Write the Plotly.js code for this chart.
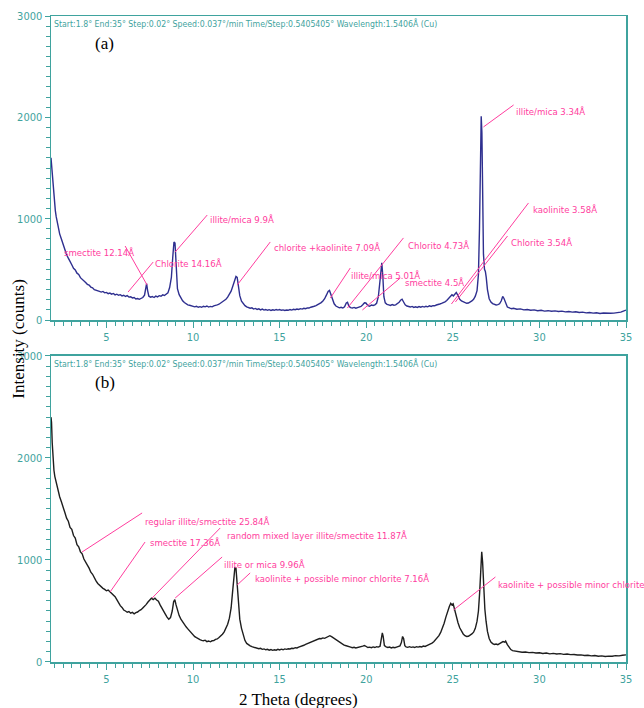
<!DOCTYPE html>
<html>
<head>
<meta charset="utf-8">
<script src="https://cdn.plot.ly/plotly-3.0.1.min.js"></script>
<style>html,body{margin:0;padding:0;background:#fff;}#chart{width:644px;height:708px;}</style>
</head>
<body>
<div id="chart"></div>
<script>
// ---- Panel (a) : 2-theta (deg) and intensity (counts) ----
const thetaA = [1.8,1.85,1.9,1.95,2.0,2.05,2.1,2.15,2.2,2.3,2.4,2.5,2.6,2.7,2.8,2.9,3.0,3.1,3.2,3.3,3.4,3.5,3.6,3.7,3.8,3.9,4.0,4.1,4.2,4.3,4.4,4.5,4.6,4.7,4.8,4.9,5.0,5.1,5.2,5.3,5.4,5.5,5.6,5.7,5.8,5.9,6.0,6.1,6.2,6.3,6.4,6.5,6.6,6.7,6.8,6.9,7.0,7.1,7.2,7.27,7.32,7.38,7.45,7.55,7.65,7.75,7.85,7.95,8.05,8.15,8.25,8.35,8.45,8.55,8.65,8.75,8.83,8.9,8.96,9.02,9.1,9.2,9.3,9.4,9.5,9.6,9.7,9.8,9.9,10.0,10.1,10.2,10.3,10.4,10.5,10.6,10.7,10.8,10.9,11.0,11.1,11.2,11.3,11.4,11.5,11.6,11.7,11.8,11.9,12.0,12.1,12.2,12.3,12.4,12.48,12.55,12.62,12.7,12.8,12.9,13.0,13.1,13.2,13.3,13.4,13.5,13.6,13.7,13.8,13.9,14.0,14.1,14.2,14.3,14.4,14.5,14.6,14.7,14.8,14.9,15.0,15.1,15.2,15.3,15.4,15.5,15.6,15.7,15.8,15.9,16.0,16.1,16.2,16.3,16.4,16.5,16.6,16.7,16.8,16.9,17.0,17.1,17.2,17.3,17.4,17.5,17.6,17.7,17.8,17.88,17.95,18.05,18.15,18.25,18.35,18.45,18.55,18.65,18.75,18.85,18.92,19.0,19.1,19.2,19.3,19.4,19.5,19.6,19.7,19.8,19.9,19.98,20.1,20.2,20.3,20.4,20.5,20.6,20.7,20.78,20.85,20.9,20.96,21.02,21.1,21.2,21.3,21.4,21.5,21.6,21.7,21.8,21.9,22.0,22.07,22.15,22.25,22.35,22.45,22.55,22.65,22.75,22.85,22.95,23.05,23.15,23.25,23.35,23.45,23.55,23.65,23.75,23.85,23.95,24.05,24.15,24.25,24.35,24.45,24.55,24.65,24.75,24.85,24.95,25.03,25.1,25.2,25.3,25.4,25.5,25.6,25.7,25.8,25.9,26.0,26.1,26.2,26.3,26.4,26.48,26.54,26.6,26.64,26.68,26.72,26.77,26.83,26.88,26.93,27.0,27.1,27.2,27.3,27.4,27.5,27.6,27.7,27.8,27.88,27.95,28.05,28.15,28.3,28.4,28.5,28.7,28.9,29.1,29.3,29.5,29.7,29.9,30.1,30.3,30.5,30.7,30.9,31.1,31.3,31.5,31.7,31.9,32.1,32.3,32.5,32.7,32.9,33.1,33.3,33.5,33.7,33.9,34.1,34.3,34.5,34.7,34.85,35.0];
const countsA = [1600,1480,1350,1230,1150,1080,1020,975,930,850,800,740,690,645,610,570,545,510,495,462,450,418,405,388,370,352,345,325,318,300,296,288,282,276,282,268,272,260,266,255,262,248,255,244,250,238,244,232,240,226,230,218,222,208,212,204,214,222,245,330,360,290,235,225,232,222,236,228,240,235,248,242,255,268,320,420,620,770,760,520,310,250,215,190,172,160,150,146,138,134,130,136,126,132,126,136,130,138,128,134,130,140,142,150,156,168,178,190,205,225,250,285,335,400,430,420,340,240,185,160,142,130,122,116,120,108,114,104,110,100,108,98,104,96,102,95,101,96,104,98,103,96,100,94,99,96,104,98,106,101,108,104,112,108,116,112,120,118,126,128,136,142,150,160,172,188,210,245,282,292,260,200,160,138,126,120,125,118,130,168,175,135,122,118,124,116,122,126,134,150,170,168,142,136,148,144,150,165,230,360,540,565,430,230,170,155,150,144,152,146,150,160,175,198,205,180,150,138,132,128,134,124,130,124,132,126,134,128,136,130,140,134,142,140,148,150,158,164,170,180,192,210,232,250,238,255,272,240,205,188,178,170,165,168,175,188,205,235,290,450,900,1700,2010,1850,1200,650,500,480,420,300,210,178,162,152,148,152,160,190,232,215,165,128,118,112,116,106,110,100,104,96,100,92,96,88,92,86,90,84,88,80,84,78,82,74,78,70,74,68,72,65,69,64,66,68,72,78,88,98];

// ---- Panel (b) ----
const thetaB = [1.8,1.83,1.87,1.92,1.97,2.02,2.1,2.2,2.3,2.4,2.5,2.6,2.7,2.8,2.9,3.0,3.1,3.2,3.3,3.4,3.5,3.6,3.7,3.8,3.9,4.0,4.1,4.2,4.3,4.4,4.5,4.6,4.7,4.8,4.9,5.0,5.1,5.2,5.3,5.4,5.5,5.6,5.7,5.8,5.9,6.0,6.1,6.2,6.3,6.4,6.5,6.6,6.7,6.8,6.9,7.0,7.1,7.2,7.3,7.4,7.5,7.6,7.7,7.8,7.9,8.0,8.1,8.2,8.3,8.4,8.5,8.6,8.7,8.8,8.88,8.95,9.02,9.1,9.2,9.3,9.4,9.5,9.6,9.7,9.8,9.9,10.0,10.1,10.2,10.3,10.4,10.5,10.6,10.7,10.8,10.9,11.0,11.1,11.2,11.3,11.4,11.5,11.6,11.7,11.8,11.9,12.0,12.1,12.2,12.28,12.35,12.42,12.48,12.55,12.62,12.7,12.8,12.9,13.0,13.1,13.2,13.3,13.4,13.5,13.6,13.7,13.8,13.9,14.0,14.1,14.2,14.3,14.4,14.5,14.6,14.7,14.8,14.9,15.0,15.1,15.2,15.3,15.4,15.5,15.6,15.7,15.8,15.9,16.0,16.1,16.2,16.3,16.4,16.5,16.6,16.7,16.8,16.9,17.0,17.1,17.2,17.3,17.4,17.5,17.6,17.7,17.8,17.9,18.0,18.1,18.2,18.3,18.4,18.5,18.6,18.7,18.8,18.9,19.0,19.1,19.2,19.3,19.4,19.5,19.6,19.7,19.8,19.9,20.0,20.1,20.2,20.3,20.4,20.5,20.6,20.7,20.8,20.88,20.93,20.98,21.05,21.15,21.25,21.35,21.45,21.55,21.65,21.75,21.85,21.95,22.03,22.1,22.16,22.23,22.3,22.4,22.5,22.6,22.7,22.8,22.9,23.0,23.1,23.2,23.3,23.4,23.5,23.6,23.7,23.8,23.9,24.0,24.1,24.2,24.3,24.4,24.5,24.6,24.7,24.8,24.88,24.95,25.02,25.1,25.2,25.3,25.4,25.5,25.6,25.7,25.8,25.9,26.0,26.1,26.2,26.3,26.4,26.48,26.55,26.62,26.67,26.72,26.78,26.85,26.92,27.0,27.1,27.2,27.3,27.4,27.5,27.6,27.7,27.8,27.9,28.0,28.05,28.15,28.25,28.35,28.45,28.6,28.8,29.0,29.2,29.4,29.6,29.8,30.0,30.2,30.4,30.6,30.8,31.0,31.2,31.4,31.6,31.8,32.0,32.2,32.4,32.6,32.8,33.0,33.2,33.4,33.6,33.8,34.0,34.2,34.4,34.6,34.8,35.0];
const countsB = [2400,2350,2150,1980,1880,1820,1760,1690,1620,1570,1505,1465,1410,1380,1320,1300,1240,1215,1150,1130,1080,1060,1010,985,950,920,880,860,820,795,770,752,735,722,712,698,705,688,676,662,640,612,580,552,535,510,500,488,495,478,486,472,484,490,505,512,530,545,565,588,605,625,612,625,608,596,560,525,490,470,440,420,435,500,590,612,560,500,455,420,392,370,345,325,305,282,262,248,238,225,220,212,208,214,200,206,198,208,210,222,226,240,255,272,295,325,370,430,530,680,820,930,920,750,520,420,330,255,210,182,168,158,150,146,138,140,130,134,124,128,120,124,116,122,114,120,116,124,118,126,120,128,124,130,128,134,132,140,138,146,150,158,164,172,180,190,196,205,210,218,222,230,228,236,232,242,250,258,248,236,222,210,196,186,178,168,162,154,150,146,140,144,138,142,140,148,155,162,150,142,146,140,148,142,150,146,155,230,285,250,160,148,142,146,138,144,140,146,150,158,190,250,230,160,148,144,150,144,148,142,150,146,152,148,156,152,160,166,172,185,198,215,235,258,290,330,380,440,500,545,575,560,570,510,445,385,335,300,275,258,250,252,262,275,292,330,400,500,680,950,1080,980,720,520,400,300,230,195,180,172,176,170,180,188,200,195,205,170,140,122,112,106,100,96,98,92,94,88,90,84,88,80,84,78,82,75,78,72,74,68,70,64,66,60,63,56,60,54,58,56,62,60,66,70];

// ---- Peak labels ----
const labelsA = ['smectite 12.14Å','Chlorite 14.16Å','illite/mica 9.9Å','chlorite +kaolinite 7.09Å','illite/mica 5.01Å','Chlorito 4.73Å','smectite 4.5Å','kaolinite 3.58Å','Chlorite 3.54Å','illite/mica 3.34Å'];
const labelsB = ['regular illite/smectite 25.84Å','smectite 17.36Å','random mixed layer illite/smectite 11.87Å','illite or mica 9.96Å','kaolinite + possible minor chlorite 7.16Å','kaolinite + possible minor chlorite 3.57Å'];
const headerText = 'Start:1.8° End:35° Step:0.02° Speed:0.037°/min Time/Step:0.5405405° Wavelength:1.5406Å (Cu)';

// label placement (text x,y ; leader from x0,y0 to x1,y1), data coords
const placeA = [
  [2.44,671, 6.08,730, 7.35,345],
  [7.70,553, 7.70,572, 6.25,276],
  [10.88,987, 10.82,1036, 8.97,671],
  [14.57,720, 14.46,770, 12.55,345],
  [19.03,444, 19.08,513, 17.93,217],
  [22.32,740, 22.15,810, 18.91,118],
  [22.15,375, 21.97,415, 19.78,99],
  [29.49,1086, 29.37,1155, 24.92,158],
  [28.22,760, 28.16,829, 25.15,178],
  [28.51,2053, 28.51,2122, 26.77,1905]
];
const placeB = [
  [7.12,1373, 7.06,1461, 3.59,1078],
  [7.41,1167, 7.23,1176, 5.21,686],
  [11.86,1245, 11.57,1314, 7.64,627],
  [11.68,951, 11.68,1029, 8.97,627],
  [13.48,814, 13.30,873, 12.55,755],
  [27.47,755, 27.46,833, 25.04,510]
];

const TEAL = '#3fa39e';
const PINK = '#ff3d9e';
const NARROW = 'Liberation Sans Narrow, DejaVu Sans Condensed, Arial Narrow, sans-serif';
const SERIF = 'Liberation Serif, Times New Roman, serif';

function xax(anchor){
  return {range:[1.8,35], anchor:anchor, showline:true, linecolor:TEAL, linewidth:1.5, mirror:true,
    showgrid:false, zeroline:false, tick0:0, dtick:5, ticks:'outside', ticklen:6, tickwidth:1, tickcolor:TEAL,
    minor:{dtick:0.5, tick0:0, ticks:'outside', ticklen:4, tickwidth:1, tickcolor:TEAL, showgrid:false},
    tickfont:{family:NARROW, size:11, color:TEAL}, fixedrange:true};
}
function yax(anchor, dom){
  return {range:[0,3000], domain:dom, anchor:anchor, showline:true, linecolor:TEAL, linewidth:1.5, mirror:true,
    showgrid:false, zeroline:false, tick0:0, dtick:1000, ticks:'outside', ticklen:5, tickwidth:1, tickcolor:TEAL,
    minor:{dtick:100, ticks:'outside', ticklen:4, tickwidth:1, tickcolor:TEAL, showgrid:false},
    tickfont:{family:NARROW, size:11, color:TEAL}, fixedrange:true};
}

const traces = [
  {x:thetaA, y:countsA, xaxis:'x', yaxis:'y', mode:'lines', line:{color:'#2e2f8f', width:1.4}, hoverinfo:'skip'},
  {x:thetaB, y:countsB, xaxis:'x2', yaxis:'y2', mode:'lines', line:{color:'#1e1e1e', width:1.4}, hoverinfo:'skip'}
];

const shapes = [];
const annotations = [];
function addLabels(labels, place, xr, yr){
  labels.forEach((t,i)=>{
    const p = place[i];
    annotations.push({x:p[0], y:p[1], xref:xr, yref:yr, text:t, showarrow:false, xanchor:'left', yanchor:'middle',
      font:{family:NARROW, size:9.5, color:PINK}});
    shapes.push({type:'line', xref:xr, yref:yr, x0:p[2], y0:p[3], x1:p[4], y1:p[5], line:{color:PINK, width:1}});
  });
}
addLabels(labelsA, placeA, 'x', 'y');
addLabels(labelsB, placeB, 'x2', 'y2');

annotations.push({x:1.85, y:3000, xref:'x', yref:'y', text:headerText, showarrow:false, xanchor:'left', yanchor:'top',
  font:{family:NARROW, size:8.7, color:TEAL}});
annotations.push({x:1.85, y:3000, xref:'x2', yref:'y2', text:headerText, showarrow:false, xanchor:'left', yanchor:'top',
  font:{family:NARROW, size:8.7, color:TEAL}});
annotations.push({x:4.9, y:2730, xref:'x', yref:'y', text:'(a)', showarrow:false, xanchor:'center', yanchor:'middle',
  font:{family:SERIF, size:17, color:'#000'}});
annotations.push({x:4.9, y:2740, xref:'x2', yref:'y2', text:'(b)', showarrow:false, xanchor:'center', yanchor:'middle',
  font:{family:SERIF, size:17, color:'#000'}});
annotations.push({x:-0.058, y:0.5, xref:'paper', yref:'paper', text:'Intensity (counts)', textangle:-90, showarrow:false,
  xanchor:'center', yanchor:'middle', font:{family:SERIF, size:17, color:'#000'}});
annotations.push({x:0.43, y:-0.058, xref:'paper', yref:'paper', text:'2 Theta (degrees)', showarrow:false,
  xanchor:'center', yanchor:'middle', font:{family:SERIF, size:17, color:'#000'}});

const layout = {
  width:644, height:708,
  margin:{l:51, r:18, t:16, b:46},
  paper_bgcolor:'#fff', plot_bgcolor:'#fff',
  showlegend:false,
  xaxis: xax('y'),
  yaxis: yax('x', [0.5294,1]),
  xaxis2: xax('y2'),
  yaxis2: yax('x2', [0,0.4737]),
  shapes:shapes, annotations:annotations
};

Plotly.newPlot('chart', traces, layout, {displayModeBar:false, staticPlot:true});
</script>
</body>
</html>
